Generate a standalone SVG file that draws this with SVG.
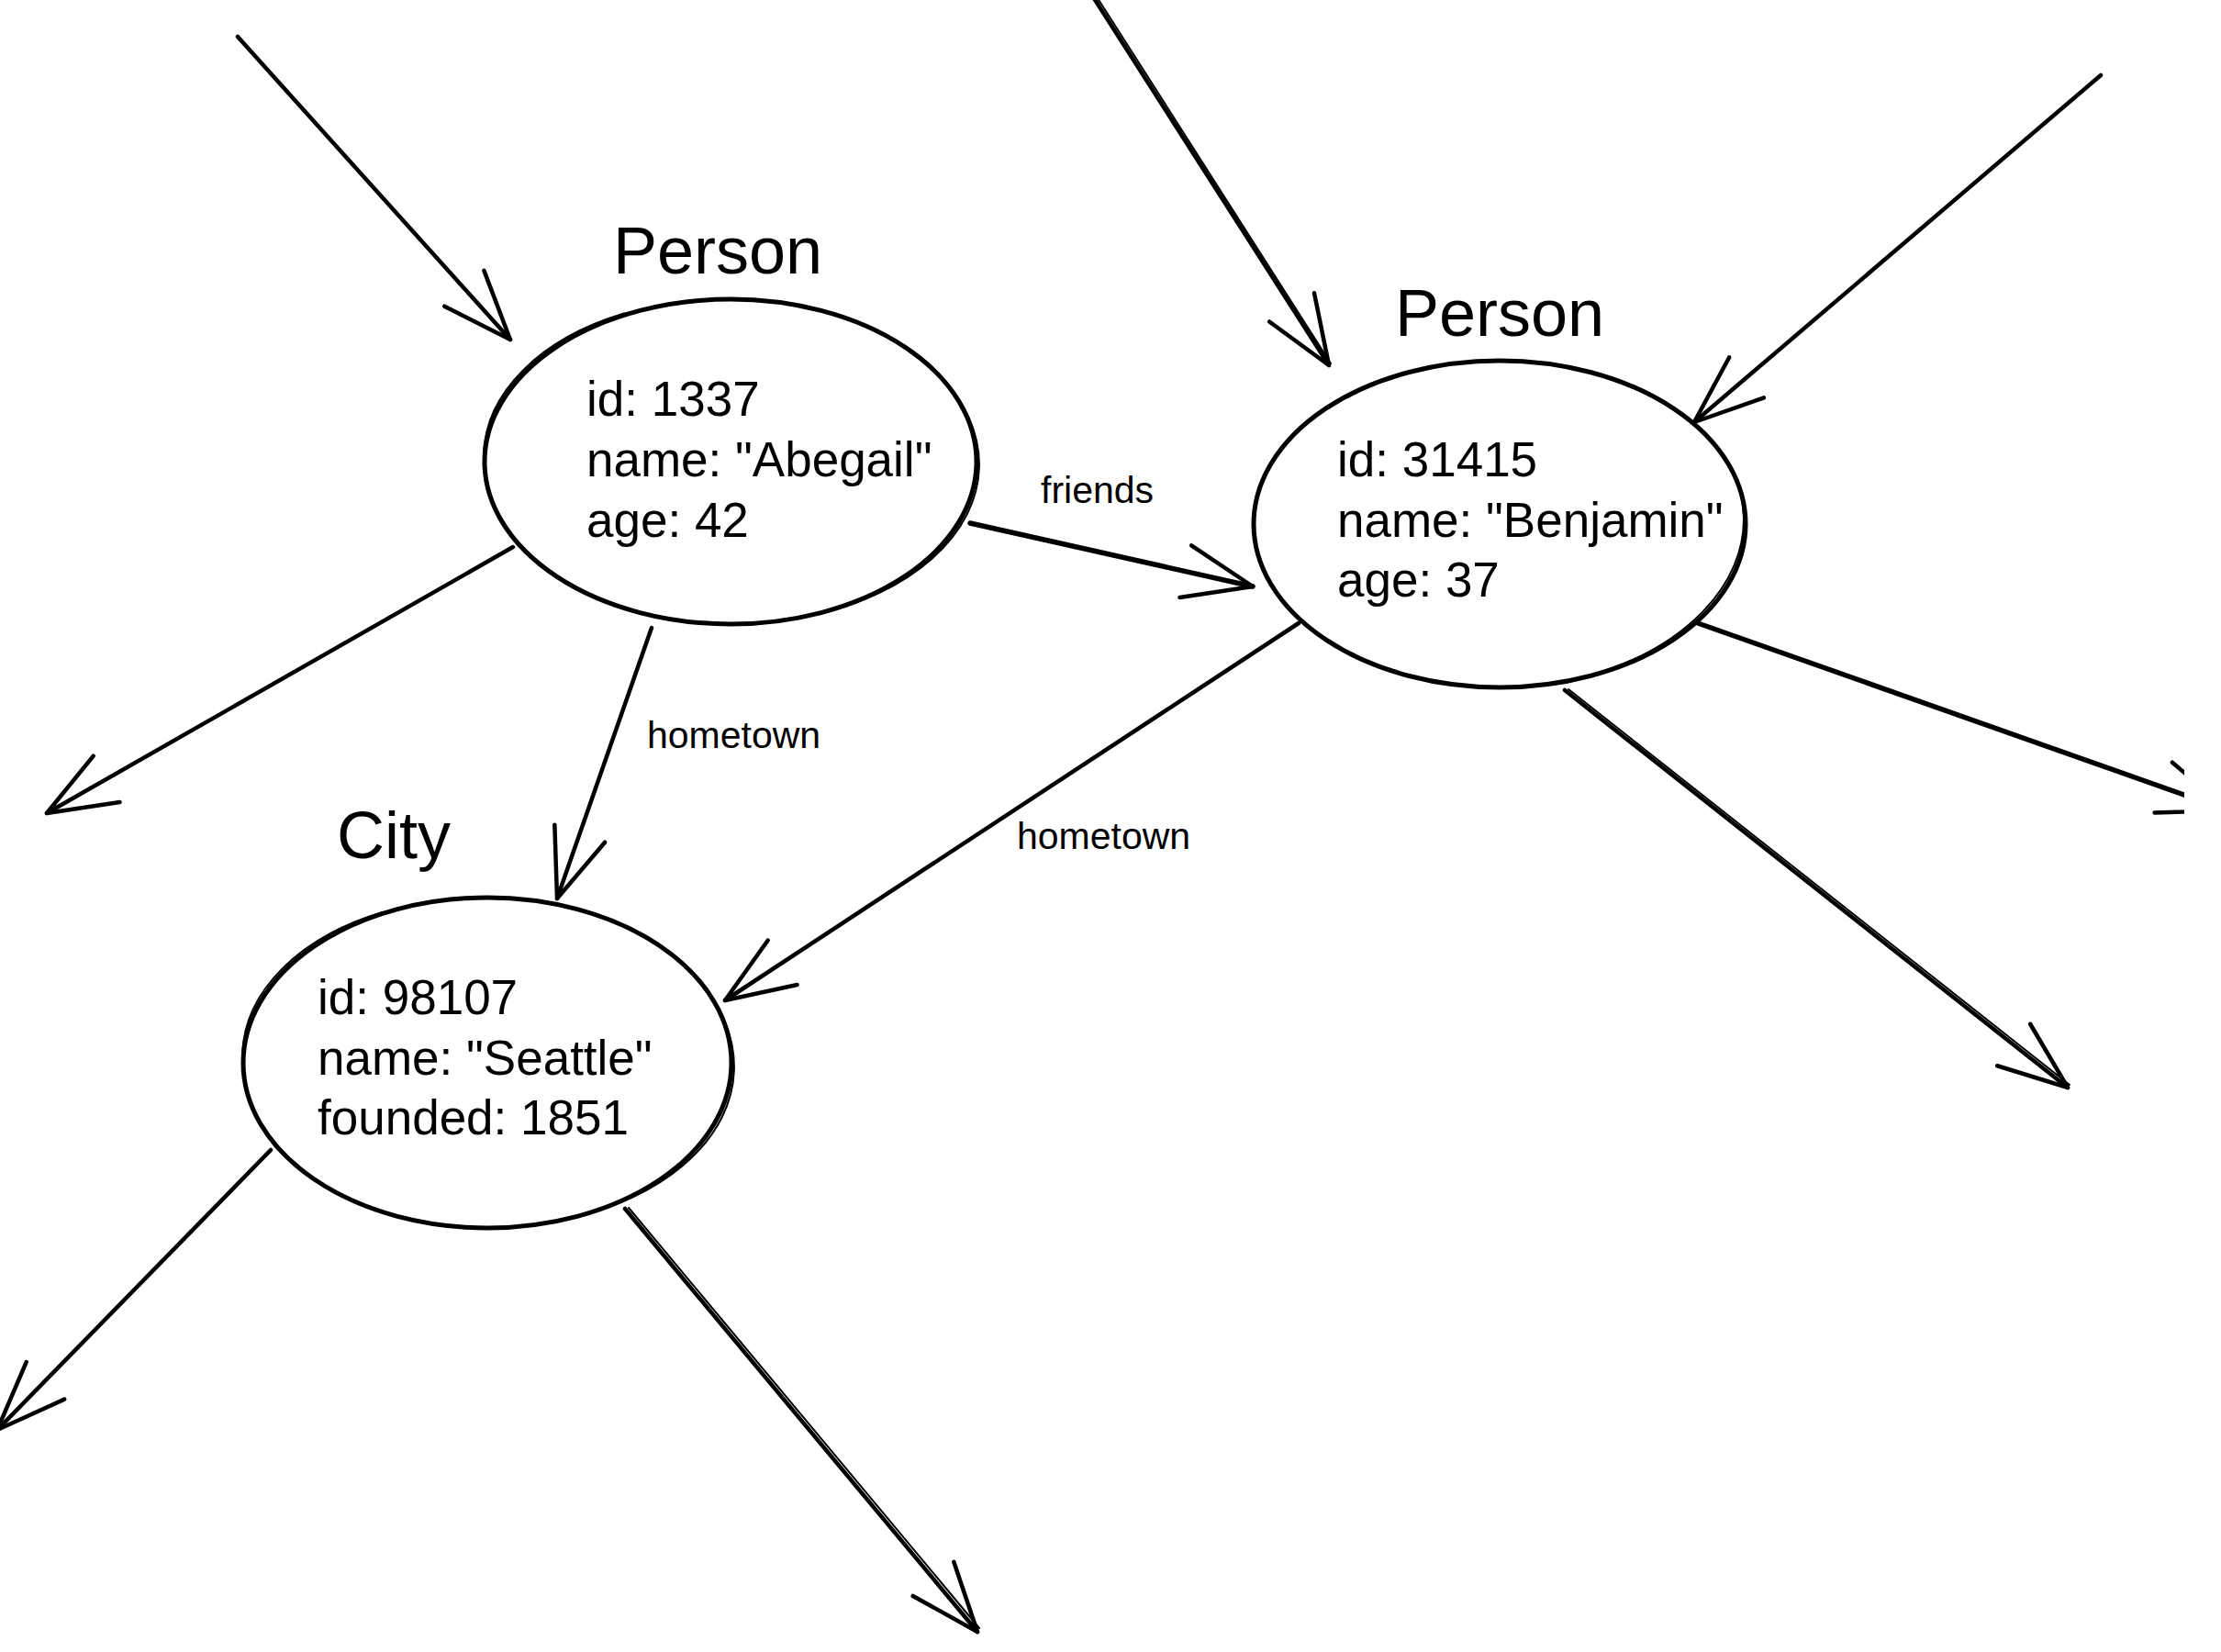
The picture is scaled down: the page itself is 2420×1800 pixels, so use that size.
<svg xmlns="http://www.w3.org/2000/svg" width="2420" height="1800" viewBox="0 0 2420 1800">
<style>
.bg{fill:#fff}
.node{fill:none;stroke:#000;stroke-width:5}
.rough{fill:none;stroke:#000;stroke-width:2;stroke-dasharray:260 420}
.title{font-family:"Liberation Sans",Arial,sans-serif;font-size:72px;fill:#000}
.prop{font-family:"Liberation Sans",Arial,sans-serif;font-size:53px;fill:#000}
.elabel{font-family:"Liberation Sans",Arial,sans-serif;font-size:41px;fill:#000}
.edge{fill:none;stroke:#000;stroke-width:4.5;stroke-linecap:round;marker-end:url(#arr)}
.edge2{fill:none;stroke:#000;stroke-width:2;stroke-linecap:round}
</style>
<defs>
<marker id="arr" markerUnits="userSpaceOnUse" refX="0" refY="0" markerWidth="120" markerHeight="120" orient="auto" overflow="visible">
<path d="M-75,-29 L0,0 L-75,29" fill="none" stroke="#000" stroke-width="4.5" stroke-linecap="round" stroke-linejoin="round"/>
</marker>
<clipPath id="clip"><rect x="0" y="0" width="2380" height="1800"/></clipPath>
</defs>
<rect class="bg" x="0" y="0" width="2420" height="1800"/>

<g id="connectors" clip-path="url(#clip)">
<line class="edge" x1="259" y1="40" x2="556" y2="370"/>
<line class="edge" x1="1190" y1="-5" x2="1448" y2="398"/>
<line class="edge2" x1="1194" y1="-5" x2="1450" y2="396"/>
<line class="edge" x1="2289" y1="82" x2="1846" y2="460"/>
<line class="edge" x1="559" y1="596" x2="51" y2="886"/>
<line class="edge" x1="710" y1="684" x2="607" y2="979"/>
<line class="edge" x1="1057" y1="570" x2="1365" y2="639" style="stroke-width:5.5"/>
<line class="edge" x1="1415" y1="679" x2="790" y2="1090"/>
<line class="edge" x1="1850" y1="679" x2="2428" y2="883" style="stroke-width:5.5"/>
<line class="edge" x1="1705" y1="752" x2="2253" y2="1185"/>
<line class="edge2" x1="1709" y1="751" x2="2255" y2="1182"/>
<line class="edge" x1="295" y1="1253" x2="-3" y2="1558"/>
<line class="edge" x1="681" y1="1317" x2="1065" y2="1778"/>
<line class="edge2" x1="685" y1="1316" x2="1067" y2="1774"/>
</g>

<g id="label-friends"><text class="elabel" x="1134" y="548">friends</text></g>
<g id="label-hometown-1"><text class="elabel" x="705" y="815">hometown</text></g>
<g id="label-hometown-2"><text class="elabel" x="1108" y="925">hometown</text></g>

<g id="node-abegail">
<text class="title" x="668" y="298">Person</text>
<ellipse class="node" cx="796" cy="503" rx="268" ry="177"/>
<ellipse class="rough" cx="797" cy="502" rx="270" ry="176" transform="rotate(1.5 797 502)"/>
<text class="prop" x="639" y="453">id: 1337</text>
<text class="prop" x="639" y="519">name: "Abegail"</text>
<text class="prop" x="639" y="585">age: 42</text>
</g>

<g id="node-benjamin">
<text class="title" x="1520" y="366">Person</text>
<ellipse class="node" cx="1634" cy="571" rx="268" ry="178"/>
<ellipse class="rough" cx="1633" cy="570" rx="267" ry="180" transform="rotate(-1.5 1633 570)"/>
<text class="prop" x="1457" y="519">id: 31415</text>
<text class="prop" x="1457" y="585">name: "Benjamin"</text>
<text class="prop" x="1457" y="650">age: 37</text>
</g>

<g id="node-city">
<text class="title" x="367" y="935">City</text>
<ellipse class="node" cx="531" cy="1158" rx="266" ry="180"/>
<ellipse class="rough" cx="532" cy="1157" rx="268" ry="178" transform="rotate(2 532 1157)"/>
<text class="prop" x="346" y="1105">id: 98107</text>
<text class="prop" x="346" y="1171">name: "Seattle"</text>
<text class="prop" x="346" y="1236">founded: 1851</text>
</g>
</svg>
